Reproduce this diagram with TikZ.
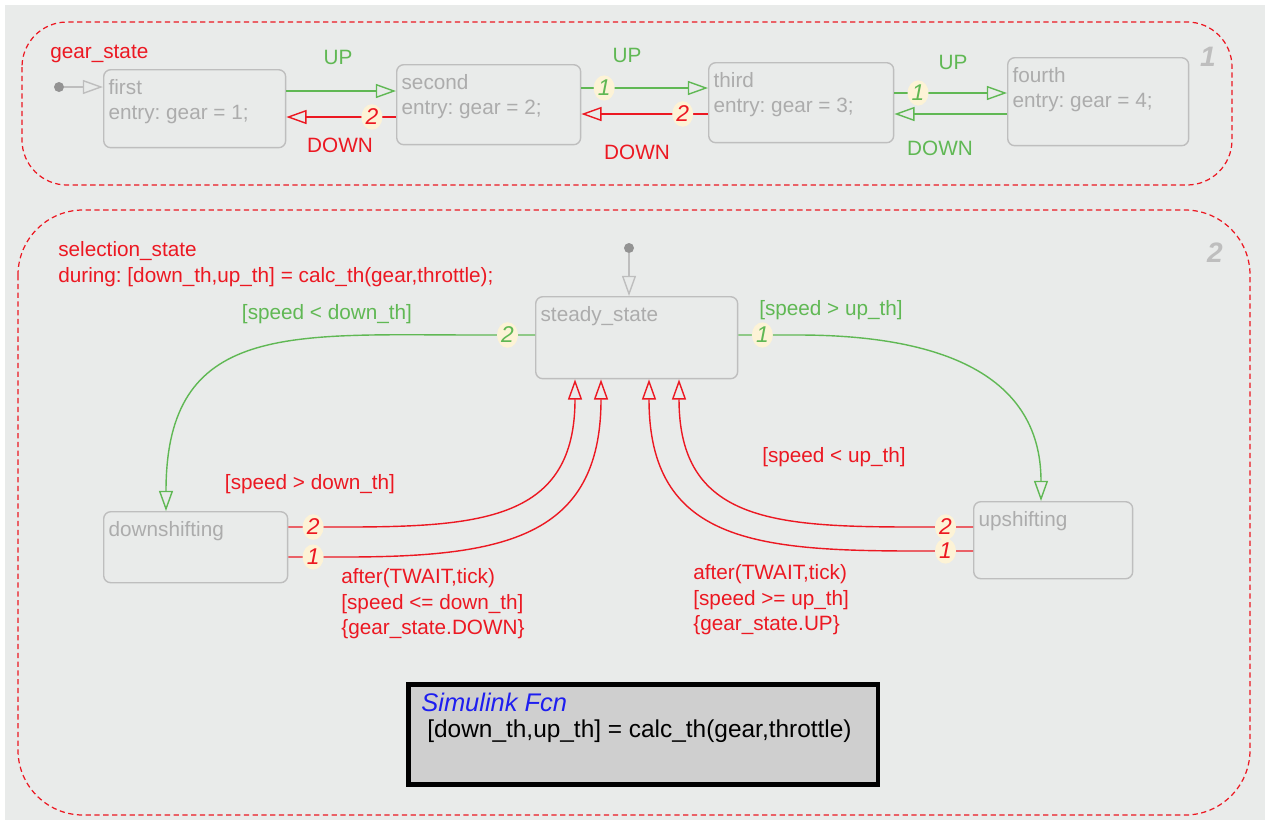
\documentclass[tikz,border=0pt]{standalone}
\usepackage{fontspec}
\setmainfont{Liberation Sans}
\usepackage{tikz}
\usetikzlibrary{arrows.meta,positioning,calc,shapes.geometric}

\definecolor{chartbg}{RGB}{233,235,234}
\definecolor{sfred}{RGB}{236,24,34}
\definecolor{sfgreen}{RGB}{96,184,84}
\definecolor{stategray}{RGB}{190,190,190}
\definecolor{statetext}{RGB}{172,172,172}
\definecolor{badgefill}{RGB}{253,243,214}
\definecolor{fcnfill}{RGB}{207,207,207}
\definecolor{fcnblue}{RGB}{30,30,240}

\newcommand{\sfsize}{\fontsize{11.8}{14.6}\selectfont\frenchspacing}

\tikzset{
  chartbox/.style={draw=sfred, dash pattern=on 3pt off 2pt, line width=0.7pt},
  boxnum/.style={text=stategray, inner sep=0pt, font=\fontsize{16}{16}\selectfont\bfseries\itshape},
  sfstate/.style={draw=stategray, line width=0.8pt, rounded corners=4pt, anchor=north west, inner sep=0pt},
  statename/.style={anchor=north west, align=left, text=statetext, inner sep=3pt, yshift=-2.5pt},
  trans/.style={line width=0.8pt, -{Triangle[open, length=11.5pt, width=8pt]}},
  badge/.style={ellipse, fill=badgefill, inner sep=0.6pt, font=\fontsize{13}{13}\selectfont\itshape},
  lbl/.style={inner sep=0pt},
  initdot/.style={circle, fill=gray!85, inner sep=0pt, minimum size=0.2cm},
  fcnbox/.style={draw=black, fill=fcnfill, line width=2.6pt, anchor=north west, inner sep=0pt}
}

\begin{document}
\begin{tikzpicture}[x=0.02cm, y=-0.02cm, font=\sfsize]
  \useasboundingbox (0,0) rectangle (1270,823);
  \fill[chartbg] (5,5) rectangle (1265,820);
  % the two parallel states
  \draw[chartbox, rounded corners=0.9cm] (22,22) rectangle (1232,185);
  \draw[chartbox, rounded corners=1.3cm] (18,210) rectangle (1250,815);
  \node[boxnum] (num1) at (1208,57) {1};
  \node[boxnum] (num2) at (1215,253) {2};

  % gear_state
  \node[lbl, anchor=west, text=sfred] (gearlbl) at (50,54) {gear\_state};
  \node[sfstate, minimum width=3.64cm, minimum height=1.56cm,
        label={[statename]north west:{first\\entry: gear = 1;}}] (first) at (103,69) {};
  \node[sfstate, minimum width=3.68cm, minimum height=1.6cm,
        label={[statename]north west:{second\\entry: gear = 2;}}] (second) at (396,64) {};
  \node[sfstate, minimum width=3.7cm, minimum height=1.6cm,
        label={[statename]north west:{third\\entry: gear = 3;}}] (third) at (708,62) {};
  \node[sfstate, minimum width=3.62cm, minimum height=1.76cm,
        label={[statename]north west:{fourth\\entry: gear = 4;}}] (fourth) at (1007,57) {};

  \node[initdot] (init1) at (59,87) {};
  \draw[trans, stategray] (init1) -- (first.west |- init1);

  \draw[trans, sfgreen] (first.east |- 0,91) -- (second.west |- 0,91);
  \draw[trans, sfred] (second.west |- 0,117) -- node[badge, pos=0.22] (b12) {2} (first.east |- 0,117);
  \draw[trans, sfgreen] (second.east |- 0,88) -- node[badge, pos=0.18] (b21) {1} (third.west |- 0,88);
  \draw[trans, sfred] (third.west |- 0,114) -- node[badge, pos=0.2] (b22) {2} (second.east |- 0,114);
  \draw[trans, sfgreen] (third.east |- 0,93) -- node[badge, pos=0.21] (b31) {1} (fourth.west |- 0,93);
  \draw[trans, sfgreen] (fourth.west |- 0,114) -- (third.east |- 0,114);

  \node[lbl, text=sfgreen] (up1) at (338,57) {UP};
  \node[lbl, text=sfred] (dn1) at (340,145) {DOWN};
  \node[lbl, text=sfgreen] (up2) at (627,55) {UP};
  \node[lbl, text=sfred] (dn2) at (637,152) {DOWN};
  \node[lbl, text=sfgreen] (up3) at (953,62) {UP};
  \node[lbl, text=sfgreen] (dn3) at (940,148) {DOWN};

  % selection_state
  \node[lbl, anchor=north west, align=left, text=sfred] (sellbl) at (58,241)
    {selection\_state\\during: [down\_th,up\_th] = calc\_th(gear,throttle);};
  \node[sfstate, minimum width=4.04cm, minimum height=1.64cm,
        label={[statename]north west:steady\_state}] (steady) at (535,296) {};
  \node[sfstate, minimum width=3.68cm, minimum height=1.42cm,
        label={[statename]north west:downshifting}] (downs) at (103,511) {};
  \node[sfstate, minimum width=3.18cm, minimum height=1.54cm,
        label={[statename]north west:upshifting}] (ups) at (973,501) {};

  \node[initdot] (init2) at (629,248) {};
  \draw[trans, stategray] (init2) -- (steady.north -| init2);

  \draw[trans, sfgreen] (steady.west |- 0,335) -- node[badge, pos=0.5] (b41) {2} ++(-55,0)
    to[out=180, in=90, looseness=1.35] (downs.north -| 166,0);
  \draw[trans, sfgreen] (steady.east |- 0,335) -- node[badge, pos=0.4] (b42) {1} ++(60,0)
    to[out=0, in=90, looseness=1.15] (ups.north -| 1041,0);
  \draw[trans, sfred] (downs.east |- 0,527) -- node[badge, pos=0.45] (b51) {2} ++(55,0)
    to[out=0, in=-90, looseness=1.3] (steady.south -| 575,0);
  \draw[trans, sfred] (downs.east |- 0,557) -- node[badge, pos=0.45] (b52) {1} ++(55,0)
    to[out=0, in=-90, looseness=1.3] (steady.south -| 601,0);
  \draw[trans, sfred] (ups.west |- 0,527) -- node[badge, pos=0.5] (b61) {2} ++(-55,0)
    to[out=180, in=-90, looseness=1.3] (steady.south -| 679,0);
  \draw[trans, sfred] (ups.west |- 0,551) -- node[badge, pos=0.5] (b62) {1} ++(-55,0)
    to[out=180, in=-90, looseness=1.3] (steady.south -| 649,0);

  \node[lbl, text=sfgreen] (g1) at (327,314) {[speed < down\_th]};
  \node[lbl, text=sfgreen] (g2) at (831,310) {[speed > up\_th]};
  \node[lbl, text=sfred] (g3) at (310,484) {[speed > down\_th]};
  \node[lbl, text=sfred] (g4) at (834,457) {[speed < up\_th]};
  \node[lbl, anchor=north west, align=left, text=sfred] (g5) at (341,568)
    {after(TWAIT,tick)\\{}[speed <= down\_th]\\\{gear\_state.DOWN\}};
  \node[lbl, anchor=north west, align=left, text=sfred] (g6) at (693,564)
    {after(TWAIT,tick)\\{}[speed >= up\_th]\\\{gear\_state.UP\}};

  % simulink function
  \node[fcnbox, minimum width=9.4cm, minimum height=2.0cm] (fcn) at (406,682) {};
  \node[lbl, anchor=west, text=fcnblue, font=\fontsize{14.5}{16}\selectfont\itshape] (fcnname) at (421,702) {Simulink Fcn};
  \node[lbl, anchor=west, font=\fontsize{13.9}{16}\selectfont] (fcnbody) at (427,731)
    {[down\_th,up\_th] = calc\_th(gear,throttle)};
\end{tikzpicture}
\end{document}
